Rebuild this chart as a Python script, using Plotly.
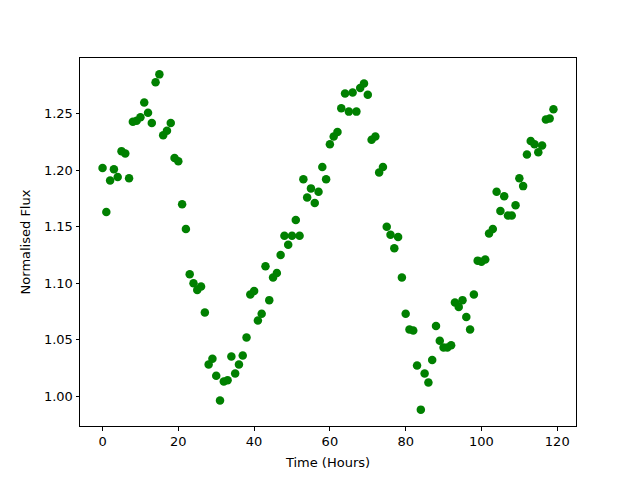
import plotly.graph_objects as go

hours = list(range(120))
flux = [
    1.202, 1.163, 1.191, 1.201, 1.194, 1.217, 1.215, 1.193, 1.243, 1.244,
    1.247, 1.260, 1.251, 1.242, 1.278, 1.285, 1.231, 1.235, 1.242, 1.211,
    1.208, 1.170, 1.148, 1.108, 1.100, 1.094, 1.097, 1.074, 1.028, 1.033,
    1.018, 0.996, 1.013, 1.014, 1.035, 1.020, 1.028, 1.036, 1.052, 1.090,
    1.093, 1.067, 1.073, 1.115, 1.085, 1.105, 1.109, 1.125, 1.142, 1.134,
    1.142, 1.156, 1.142, 1.192, 1.176, 1.184, 1.171, 1.181, 1.203, 1.192,
    1.223, 1.230, 1.234, 1.255, 1.268, 1.252, 1.269, 1.252, 1.273, 1.277,
    1.267, 1.227, 1.230, 1.198, 1.203, 1.150, 1.143, 1.131, 1.141, 1.105,
    1.073, 1.059, 1.058, 1.027, 0.988, 1.020, 1.012, 1.032, 1.062, 1.049,
    1.043, 1.043, 1.045, 1.083, 1.079, 1.085, 1.070, 1.059, 1.090, 1.120,
    1.119, 1.121, 1.144, 1.148, 1.181, 1.164, 1.177, 1.160, 1.160, 1.169,
    1.193, 1.186, 1.214, 1.226, 1.223, 1.216, 1.222, 1.245, 1.246, 1.254,
]
x_ticks = [0, 20, 40, 60, 80, 100, 120]
y_ticks = [1.00, 1.05, 1.10, 1.15, 1.20, 1.25]

fig = go.Figure(go.Scatter(
    x=hours, y=flux, mode="markers",
    marker=dict(color="#008000", size=8.5, line=dict(width=0)),
))

axis_common = dict(
    showline=True, linecolor="black", linewidth=1, mirror=True,
    ticks="outside", ticklen=3.5, tickwidth=1, tickcolor="black",
    showgrid=False, zeroline=False, automargin=False,
    tickfont=dict(family="DejaVu Sans", size=13, color="black"),
)
title_font = dict(family="DejaVu Sans", size=13, color="black")

fig.update_layout(
    width=640, height=480,
    margin=dict(l=72, r=72, t=50, b=62),
    paper_bgcolor="white", plot_bgcolor="white",
    showlegend=False,
    font=dict(family="DejaVu Sans", size=13, color="black"),
    xaxis=dict(range=[-5.95, 124.95], tickvals=x_ticks,
               title=dict(text="Time (Hours)", standoff=9, font=title_font), **axis_common),
    yaxis=dict(range=[0.9735, 1.2995], tickvals=y_ticks, tickformat=".2f",
               title=dict(text="Normalised Flux", standoff=10, font=title_font), **axis_common),
)

fig.write_html("out.html")
